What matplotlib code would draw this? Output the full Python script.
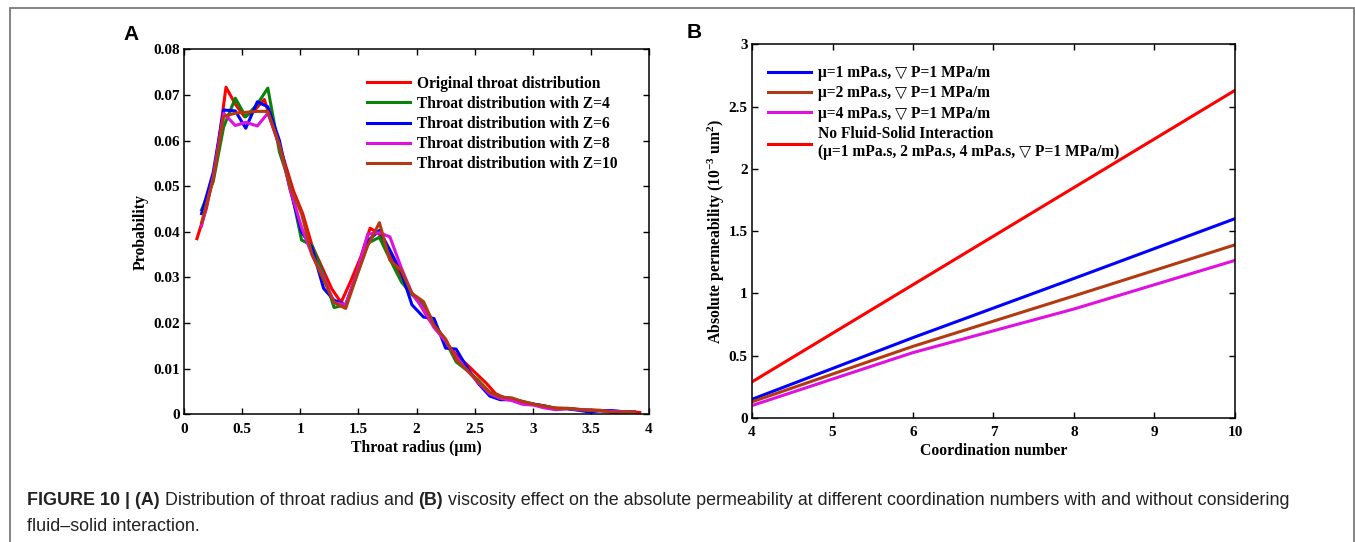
import matplotlib
matplotlib.use("Agg")
import matplotlib.pyplot as plt
from matplotlib.patches import Rectangle

# ---------------- data ----------------
# Panel A: throat radius distribution
x_orig = [0.11, 0.19, 0.27, 0.36, 0.44, 0.52, 0.60, 0.69, 0.77, 0.85, 0.94, 1.02,
          1.10, 1.19, 1.27, 1.35, 1.43, 1.52, 1.60, 1.68, 1.77, 1.85, 1.93, 2.02,
          2.10, 2.18, 2.26, 2.35, 2.43, 2.51, 2.60, 2.68, 2.76, 2.85, 2.93, 3.01,
          3.09, 3.18, 3.26, 3.34, 3.43, 3.51, 3.59, 3.68, 3.76, 3.84, 3.92]
y_orig = [0.0385, 0.0450, 0.0545, 0.0717, 0.0680, 0.0652, 0.0665, 0.0690, 0.0625,
          0.0565, 0.0490, 0.0440, 0.0370, 0.0320, 0.0275, 0.0245, 0.0290, 0.0345,
          0.0408, 0.0395, 0.0350, 0.0310, 0.0275, 0.0245, 0.0210, 0.0185, 0.0155,
          0.0128, 0.0110, 0.0090, 0.0068, 0.0045, 0.0036, 0.0032, 0.0027, 0.0022,
          0.0019, 0.0014, 0.0013, 0.0012, 0.0010, 0.0009, 0.0008, 0.0007, 0.0006,
          0.0006, 0.0004]

x_z = [0.15, 0.25, 0.34, 0.44, 0.53, 0.63, 0.72, 0.82, 0.91, 1.01, 1.10, 1.20,
       1.29, 1.39, 1.48, 1.58, 1.68, 1.77, 1.87, 1.96, 2.06, 2.15, 2.25, 2.34,
       2.44, 2.53, 2.63, 2.72, 2.82, 2.91, 3.01, 3.10, 3.20, 3.30, 3.39, 3.49,
       3.58, 3.68, 3.77, 3.87]
y_z4 = [0.0448, 0.0510, 0.0630, 0.0693, 0.0652, 0.0680, 0.0715, 0.0575, 0.0505,
        0.0382, 0.0370, 0.0305, 0.0234, 0.0240, 0.0300, 0.0375, 0.0388, 0.0340,
        0.0290, 0.0262, 0.0240, 0.0200, 0.0160, 0.0115, 0.0095, 0.0075, 0.0048,
        0.0038, 0.0033, 0.0028, 0.0022, 0.0018, 0.0013, 0.0013, 0.0010, 0.0009,
        0.0008, 0.0006, 0.0006, 0.0006]
y_z6 = [0.0440, 0.0530, 0.0667, 0.0665, 0.0627, 0.0685, 0.0674, 0.0600, 0.0495,
        0.0400, 0.0365, 0.0276, 0.0250, 0.0240, 0.0305, 0.0380, 0.0403, 0.0360,
        0.0310, 0.0240, 0.0213, 0.0210, 0.0145, 0.0143, 0.0100, 0.0068, 0.0040,
        0.0032, 0.0032, 0.0025, 0.0022, 0.0018, 0.0012, 0.0012, 0.0009, 0.0005,
        0.0008, 0.0008, 0.0006, 0.0006]
y_z8 = [0.0413, 0.0520, 0.0660, 0.0633, 0.0640, 0.0632, 0.0660, 0.0590, 0.0495,
        0.0410, 0.0350, 0.0300, 0.0245, 0.0240, 0.0305, 0.0395, 0.0398, 0.0389,
        0.0320, 0.0265, 0.0230, 0.0190, 0.0160, 0.0125, 0.0095, 0.0070, 0.0045,
        0.0035, 0.0030, 0.0022, 0.0020, 0.0014, 0.0010, 0.0013, 0.0010, 0.0009,
        0.0008, 0.0006, 0.0006, 0.0006]
y_z10 = [0.0420, 0.0515, 0.0653, 0.0660, 0.0662, 0.0664, 0.0664, 0.0590, 0.0500,
         0.0440, 0.0350, 0.0295, 0.0245, 0.0232, 0.0300, 0.0370, 0.0420, 0.0338,
         0.0315, 0.0265, 0.0247, 0.0195, 0.0165, 0.0120, 0.0095, 0.0072, 0.0048,
         0.0038, 0.0036, 0.0028, 0.0022, 0.0018, 0.0013, 0.0013, 0.0011, 0.0009,
         0.0009, 0.0004, 0.0005, 0.0006]

labels_a = ["Original throat distribution", "Throat distribution with Z=4",
            "Throat distribution with Z=6", "Throat distribution with Z=8",
            "Throat distribution with Z=10"]

# Panel B: permeability vs coordination number
coord = [4, 6, 8, 10]
perm_mu1 = [0.15, 0.645, 1.12, 1.60]
perm_mu2 = [0.13, 0.575, 0.98, 1.39]
perm_mu4 = [0.10, 0.525, 0.875, 1.265]
perm_nofsi = [0.29, 1.07, 1.85, 2.63]
labels_b = ["\u03bc=1 mPa.s, \u25bd P=1 MPa/m", "\u03bc=2 mPa.s, \u25bd P=1 MPa/m",
            "\u03bc=4 mPa.s, \u25bd P=1 MPa/m",
            "No Fluid-Solid Interaction\n(\u03bc=1 mPa.s, 2 mPa.s, 4 mPa.s, \u25bd P=1 MPa/m)"]

xticks_a = [0, 0.5, 1, 1.5, 2, 2.5, 3, 3.5, 4]
xticklabels_a = ["0", "0.5", "1", "1.5", "2", "2.5", "3", "3.5", "4"]
yticks_a = [0, 0.01, 0.02, 0.03, 0.04, 0.05, 0.06, 0.07, 0.08]
yticklabels_a = ["0", "0.01", "0.02", "0.03", "0.04", "0.05", "0.06", "0.07", "0.08"]
xticks_b = [4, 5, 6, 7, 8, 9, 10]
yticks_b = [0, 0.5, 1, 1.5, 2, 2.5, 3]
yticklabels_b = ["0", "0.5", "1", "1.5", "2", "2.5", "3"]

caption_parts = [("FIGURE 10 | (A)", "bold"),
                 (" Distribution of throat radius and ", "normal"),
                 ("(B)", "bold"),
                 (" viscosity effect on the absolute permeability at different "
                  "coordination numbers with and without considering", "normal")]
caption_line2 = "fluid\u2013solid interaction."

# ---------------- style ----------------
RED = "#FF0000"
GREEN = "#0A820A"
BLUE = "#0000FF"
MAGENTA = "#E010E0"
BROWN = "#B33A10"

SERIF = ["Liberation Serif", "DejaVu Serif", "DejaVu Sans"]
plt.rcParams["font.family"] = SERIF
plt.rcParams["font.weight"] = "bold"
plt.rcParams["mathtext.fontset"] = "custom"
plt.rcParams["mathtext.rm"] = "Liberation Serif:bold"
plt.rcParams["mathtext.bf"] = "Liberation Serif:bold"
plt.rcParams["mathtext.it"] = "Liberation Serif:bold:italic"
plt.rcParams["mathtext.default"] = "rm"

TICK_FS = 11
LAB_FS = 11.3
LEG_FS = 11.2

fig = plt.figure(figsize=(13.55, 5.42), dpi=100)

def style_axes(ax):
    for s in ax.spines.values():
        s.set_linewidth(1.1)
        s.set_color("black")
    ax.tick_params(direction="in", length=4, width=1.0, top=True, right=True,
                   labelsize=TICK_FS)
    ax.tick_params(axis="x", pad=6)
    ax.tick_params(axis="y", pad=3)
    for lab in ax.get_xticklabels() + ax.get_yticklabels():
        lab.set_fontweight("bold")

# ---------------- panel A ----------------
axA = fig.add_axes([0.1359, 0.2356, 0.479 - 0.1359, 0.909 - 0.2356])
axA.plot(x_orig, y_orig, color=RED, lw=2.2, label=labels_a[0])
axA.plot(x_z, y_z4, color=GREEN, lw=2.2, label=labels_a[1])
axA.plot(x_z, y_z6, color=BLUE, lw=2.2, label=labels_a[2])
axA.plot(x_z, y_z8, color=MAGENTA, lw=2.2, label=labels_a[3])
axA.plot(x_z, y_z10, color=BROWN, lw=2.2, label=labels_a[4])
axA.set_xlim(0, 4)
axA.set_ylim(0, 0.08)
axA.set_xticks(xticks_a)
axA.set_xticklabels(xticklabels_a)
axA.set_yticks(yticks_a)
axA.set_yticklabels(yticklabels_a)
axA.set_xlabel("Throat radius (\u03bcm)", fontsize=LAB_FS, fontweight="bold", labelpad=3)
axA.set_ylabel("Probability", fontsize=LAB_FS, fontweight="bold", labelpad=3)
style_axes(axA)
legA = axA.legend(loc="upper left", bbox_to_anchor=(0.394, 0.928), frameon=False,
                  fontsize=LEG_FS, handlelength=2.75, handletextpad=0.45,
                  labelspacing=0.27, borderpad=0, borderaxespad=0)
for t in legA.get_texts():
    t.set_fontweight("bold")

# ---------------- panel B ----------------
axB = fig.add_axes([0.555, 0.2288, 0.9114 - 0.555, 0.9183 - 0.2288])
axB.plot(coord, perm_mu1, color=BLUE, lw=2.2, label=labels_b[0])
axB.plot(coord, perm_mu2, color=BROWN, lw=2.2, label=labels_b[1])
axB.plot(coord, perm_mu4, color=MAGENTA, lw=2.2, label=labels_b[2])
axB.plot(coord, perm_nofsi, color=RED, lw=2.2, label=labels_b[3])
axB.set_xlim(4, 10)
axB.set_ylim(0, 3)
axB.set_xticks(xticks_b)
axB.set_yticks(yticks_b)
axB.set_yticklabels(yticklabels_b)
axB.set_xlabel("Coordination number", fontsize=LAB_FS, fontweight="bold", labelpad=3)
axB.set_ylabel(r"Absolute permeability (10$^{-3}$ um$^{2}$)", fontsize=LAB_FS,
               fontweight="bold", labelpad=1)
style_axes(axB)
legB = axB.legend(loc="upper left", bbox_to_anchor=(0.033, 0.944), frameon=False,
                  fontsize=LEG_FS, handlelength=2.75, handletextpad=0.45,
                  labelspacing=0.27, borderpad=0, borderaxespad=0)
for t in legB.get_texts():
    t.set_fontweight("bold")
    t.set_fontfamily(SERIF)

# ---------------- panel letters ----------------
fig.text(123 / 1355, 1 - 35 / 542, "A", fontsize=15, fontweight="bold",
         family="Liberation Sans", va="center", ha="left")
fig.text(687 / 1355, 1 - 33 / 542, "B", fontsize=15, fontweight="bold",
         family="Liberation Sans", va="center", ha="left")

# ---------------- caption ----------------
CAP_FS = 12.9
cap_kw = dict(fontsize=CAP_FS, family="Liberation Sans", color="#222222",
              va="baseline", ha="left")
renderer = fig.canvas.get_renderer()
x_px = 27.0
y1 = 1 - 505 / 542
for txt, wt in caption_parts:
    t = fig.text(x_px / 1355, y1, txt, fontweight=wt, **cap_kw)
    x_px += t.get_window_extent(renderer).width
fig.text(27 / 1355, 1 - 531 / 542, caption_line2, fontweight="normal", **cap_kw)

# ---------------- figure border ----------------
border = Rectangle((9.7 / 1355, -0.05), (1354.0 - 9.7) / 1355, 1 - 8.3 / 542 + 0.05,
                   transform=fig.transFigure, fill=False, edgecolor="#7a7a7a",
                   linewidth=1.3, clip_on=False)
fig.patches.append(border)

fig.savefig("out.png", dpi=100)
